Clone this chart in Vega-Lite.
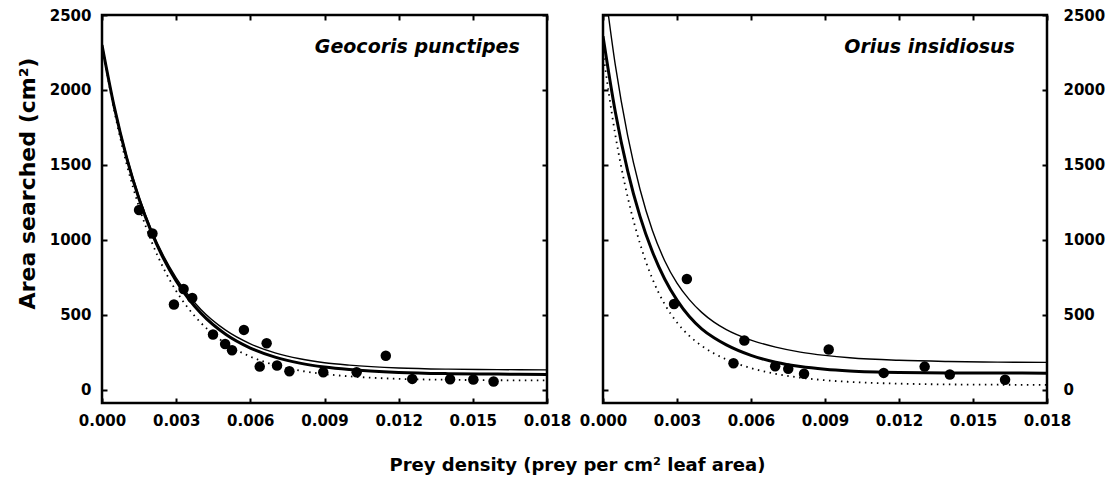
{
  "$schema": "https://vega.github.io/schema/vega-lite/v6.json",
  "background": "white",
  "padding": {"left": 15, "top": 6, "right": 2, "bottom": 5},
  "bounds": "flush",
  "spacing": 56,
  "config": {
    "view": {"stroke": "black", "strokeWidth": 2.5},
    "font": "DejaVu Sans",
    "axis": {
      "labelFont": "DejaVu Sans", "labelFontWeight": "bold", "labelFontSize": 15, "labelColor": "black",
      "titleFont": "DejaVu Sans", "titleFontWeight": "bold", "titleColor": "black",
      "domain": false, "grid": false, "tickColor": "black", "tickWidth": 2, "tickSize": -5,
      "labelFlush": false, "labelOverlap": false
    }
  },
  "title": {"text": "Prey density (prey per cm² leaf area)", "orient": "bottom", "anchor": "middle", "font": "DejaVu Sans", "fontSize": 18, "fontWeight": "bold", "color": "black", "offset": 28, "dx": 17},
  "datasets": {
    "gp_pts": [
      {"x": 0.0015, "y": 1198}, {"x": 0.00204, "y": 1042}, {"x": 0.00291, "y": 567}, {"x": 0.0033, "y": 671},
      {"x": 0.00365, "y": 611}, {"x": 0.00449, "y": 367}, {"x": 0.00498, "y": 304}, {"x": 0.00526, "y": 262},
      {"x": 0.00574, "y": 398}, {"x": 0.00638, "y": 153}, {"x": 0.00666, "y": 309}, {"x": 0.00708, "y": 160},
      {"x": 0.00758, "y": 122}, {"x": 0.00895, "y": 115}, {"x": 0.0103, "y": 115}, {"x": 0.01148, "y": 225},
      {"x": 0.01255, "y": 71}, {"x": 0.01408, "y": 69}, {"x": 0.01502, "y": 67}, {"x": 0.01584, "y": 53}
    ],
    "gp_thin": [
      {"x": 0, "y": 2300}, {"x": 0.0005, "y": 1889}, {"x": 0.001, "y": 1556}, {"x": 0.0015, "y": 1286}, {"x": 0.002, "y": 1067},
      {"x": 0.0025, "y": 889}, {"x": 0.003, "y": 746}, {"x": 0.0035, "y": 629}, {"x": 0.004, "y": 534}, {"x": 0.005, "y": 396},
      {"x": 0.006, "y": 305}, {"x": 0.007, "y": 245}, {"x": 0.008, "y": 205}, {"x": 0.009, "y": 179}, {"x": 0.01, "y": 163},
      {"x": 0.012, "y": 144}, {"x": 0.014, "y": 136}, {"x": 0.016, "y": 133}, {"x": 0.018, "y": 131}
    ],
    "gp_thick": [
      {"x": 0, "y": 2300}, {"x": 0.0005, "y": 1883}, {"x": 0.001, "y": 1545}, {"x": 0.0015, "y": 1272}, {"x": 0.002, "y": 1050},
      {"x": 0.0025, "y": 870}, {"x": 0.003, "y": 724}, {"x": 0.0035, "y": 606}, {"x": 0.004, "y": 510}, {"x": 0.005, "y": 369},
      {"x": 0.006, "y": 277}, {"x": 0.007, "y": 216}, {"x": 0.008, "y": 176}, {"x": 0.009, "y": 150}, {"x": 0.01, "y": 133},
      {"x": 0.012, "y": 114}, {"x": 0.014, "y": 106}, {"x": 0.016, "y": 103}, {"x": 0.018, "y": 101}
    ],
    "gp_dot": [
      {"x": 0, "y": 2300}, {"x": 0.0005, "y": 1858}, {"x": 0.001, "y": 1503}, {"x": 0.0015, "y": 1218}, {"x": 0.002, "y": 989},
      {"x": 0.0025, "y": 806}, {"x": 0.003, "y": 658}, {"x": 0.0035, "y": 540}, {"x": 0.004, "y": 445}, {"x": 0.005, "y": 308},
      {"x": 0.006, "y": 220}, {"x": 0.007, "y": 163}, {"x": 0.008, "y": 126}, {"x": 0.009, "y": 103}, {"x": 0.01, "y": 88},
      {"x": 0.012, "y": 71}, {"x": 0.014, "y": 65}, {"x": 0.016, "y": 62}, {"x": 0.018, "y": 61}
    ],
    "oi_pts": [
      {"x": 0.00288, "y": 571}, {"x": 0.0034, "y": 738}, {"x": 0.00529, "y": 175}, {"x": 0.00573, "y": 327},
      {"x": 0.00698, "y": 155}, {"x": 0.00751, "y": 138}, {"x": 0.00815, "y": 105}, {"x": 0.00915, "y": 267},
      {"x": 0.01138, "y": 111}, {"x": 0.01304, "y": 153}, {"x": 0.01406, "y": 100}, {"x": 0.0163, "y": 65}
    ],
    "oi_thin": [
      {"x": 0, "y": 2780}, {"x": 0.0005, "y": 2165}, {"x": 0.001, "y": 1695}, {"x": 0.0015, "y": 1337}, {"x": 0.002, "y": 1063},
      {"x": 0.0025, "y": 860}, {"x": 0.003, "y": 710}, {"x": 0.0035, "y": 600}, {"x": 0.004, "y": 515}, {"x": 0.0045, "y": 450},
      {"x": 0.005, "y": 400}, {"x": 0.006, "y": 330}, {"x": 0.007, "y": 283}, {"x": 0.008, "y": 250}, {"x": 0.009, "y": 228},
      {"x": 0.01, "y": 212}, {"x": 0.012, "y": 195}, {"x": 0.014, "y": 187}, {"x": 0.016, "y": 183}, {"x": 0.018, "y": 181}
    ],
    "oi_thick": [
      {"x": 0, "y": 2359}, {"x": 0.0005, "y": 1853}, {"x": 0.001, "y": 1460}, {"x": 0.0015, "y": 1156}, {"x": 0.002, "y": 921},
      {"x": 0.0025, "y": 738}, {"x": 0.003, "y": 597}, {"x": 0.0035, "y": 487}, {"x": 0.004, "y": 405}, {"x": 0.0045, "y": 345},
      {"x": 0.005, "y": 298}, {"x": 0.006, "y": 228}, {"x": 0.007, "y": 182}, {"x": 0.008, "y": 153}, {"x": 0.009, "y": 135},
      {"x": 0.01, "y": 124}, {"x": 0.012, "y": 114}, {"x": 0.014, "y": 111}, {"x": 0.016, "y": 110}, {"x": 0.018, "y": 109}
    ],
    "oi_dot": [
      {"x": 0, "y": 2250}, {"x": 0.0005, "y": 1699}, {"x": 0.001, "y": 1285}, {"x": 0.0015, "y": 974}, {"x": 0.002, "y": 740},
      {"x": 0.0025, "y": 570}, {"x": 0.003, "y": 447}, {"x": 0.0035, "y": 358}, {"x": 0.004, "y": 292}, {"x": 0.0045, "y": 241},
      {"x": 0.005, "y": 201}, {"x": 0.006, "y": 143}, {"x": 0.007, "y": 105}, {"x": 0.008, "y": 79}, {"x": 0.009, "y": 62},
      {"x": 0.01, "y": 51}, {"x": 0.012, "y": 39}, {"x": 0.014, "y": 34}, {"x": 0.016, "y": 32}, {"x": 0.018, "y": 31}
    ],
    "labels": [{"name": "x"}]
  },
  "hconcat": [
    {
      "width": 445, "height": 388,
      "layer": [
        {
          "data": {"name": "gp_thick"},
          "mark": {"type": "line", "interpolate": "monotone", "color": "black", "strokeWidth": 3, "clip": true},
          "encoding": {
            "x": {"field": "x", "type": "quantitative", "scale": {"domain": [0, 0.018], "nice": false, "zero": false},
                  "axis": {"orient": "bottom", "values": [0, 0.003, 0.006, 0.009, 0.012, 0.015, 0.018], "format": ".3f", "title": null, "labelPadding": 15}},
            "y": {"field": "y", "type": "quantitative", "scale": {"domain": [-90, 2500], "nice": false, "zero": false},
                  "axis": {"orient": "left", "values": [0, 500, 1000, 1500, 2000, 2500], "format": "d", "title": "Area searched (cm²)", "titleFontSize": 22, "titleY": 168, "labelPadding": 16, "titlePadding": 10}}
          }
        },
        {
          "data": {"name": "gp_thin"},
          "mark": {"type": "line", "interpolate": "monotone", "color": "black", "strokeWidth": 1.4, "clip": true},
          "encoding": {
            "x": {"field": "x", "type": "quantitative", "scale": {"domain": [0, 0.018], "nice": false, "zero": false}, "axis": null},
            "y": {"field": "y", "type": "quantitative", "scale": {"domain": [-90, 2500], "nice": false, "zero": false}, "axis": null}
          }
        },
        {
          "data": {"name": "gp_dot"},
          "mark": {"type": "line", "interpolate": "monotone", "color": "black", "strokeWidth": 1.8, "strokeDash": [1.5, 4.5], "clip": true},
          "encoding": {
            "x": {"field": "x", "type": "quantitative", "scale": {"domain": [0, 0.018], "nice": false, "zero": false}, "axis": null},
            "y": {"field": "y", "type": "quantitative", "scale": {"domain": [-90, 2500], "nice": false, "zero": false}, "axis": null}
          }
        },
        {
          "data": {"name": "gp_pts"},
          "mark": {"type": "circle", "color": "black", "opacity": 1, "size": 110},
          "encoding": {
            "x": {"field": "x", "type": "quantitative", "scale": {"domain": [0, 0.018], "nice": false, "zero": false},
                  "axis": {"orient": "top", "values": [0, 0.003, 0.006, 0.009, 0.012, 0.015, 0.018], "labels": false, "title": null}},
            "y": {"field": "y", "type": "quantitative", "scale": {"domain": [-90, 2500], "nice": false, "zero": false},
                  "axis": {"orient": "right", "values": [0, 500, 1000, 1500, 2000, 2500], "labels": false, "title": null}}
          }
        },
        {
          "data": {"name": "labels"},
          "mark": {"type": "text", "align": "right", "baseline": "middle", "font": "DejaVu Sans", "fontSize": 19, "fontWeight": "bold", "fontStyle": "italic", "color": "black"},
          "encoding": {
            "x": {"datum": 0.0169, "type": "quantitative", "scale": {"domain": [0, 0.018], "nice": false, "zero": false}, "axis": null},
            "y": {"datum": 2285, "type": "quantitative", "scale": {"domain": [-90, 2500], "nice": false, "zero": false}, "axis": null},
            "text": {"value": "Geocoris punctipes"}
          }
        }
      ],
      "resolve": {"axis": {"x": "independent", "y": "independent"}}
    },
    {
      "width": 444, "height": 388,
      "layer": [
        {
          "data": {"name": "oi_thick"},
          "mark": {"type": "line", "interpolate": "monotone", "color": "black", "strokeWidth": 3, "clip": true},
          "encoding": {
            "x": {"field": "x", "type": "quantitative", "scale": {"domain": [0, 0.018], "nice": false, "zero": false},
                  "axis": {"orient": "bottom", "values": [0, 0.003, 0.006, 0.009, 0.012, 0.015, 0.018], "format": ".3f", "title": null, "labelPadding": 15}},
            "y": {"field": "y", "type": "quantitative", "scale": {"domain": [-90, 2500], "nice": false, "zero": false},
                  "axis": {"orient": "right", "values": [0, 500, 1000, 1500, 2000, 2500], "format": "d", "title": null, "labelPadding": 21}}
          }
        },
        {
          "data": {"name": "oi_thin"},
          "mark": {"type": "line", "interpolate": "monotone", "color": "black", "strokeWidth": 1.4, "clip": true},
          "encoding": {
            "x": {"field": "x", "type": "quantitative", "scale": {"domain": [0, 0.018], "nice": false, "zero": false}, "axis": null},
            "y": {"field": "y", "type": "quantitative", "scale": {"domain": [-90, 2500], "nice": false, "zero": false}, "axis": null}
          }
        },
        {
          "data": {"name": "oi_dot"},
          "mark": {"type": "line", "interpolate": "monotone", "color": "black", "strokeWidth": 1.8, "strokeDash": [1.5, 4.5], "clip": true},
          "encoding": {
            "x": {"field": "x", "type": "quantitative", "scale": {"domain": [0, 0.018], "nice": false, "zero": false}, "axis": null},
            "y": {"field": "y", "type": "quantitative", "scale": {"domain": [-90, 2500], "nice": false, "zero": false}, "axis": null}
          }
        },
        {
          "data": {"name": "oi_pts"},
          "mark": {"type": "circle", "color": "black", "opacity": 1, "size": 110},
          "encoding": {
            "x": {"field": "x", "type": "quantitative", "scale": {"domain": [0, 0.018], "nice": false, "zero": false},
                  "axis": {"orient": "top", "values": [0, 0.003, 0.006, 0.009, 0.012, 0.015, 0.018], "labels": false, "title": null}},
            "y": {"field": "y", "type": "quantitative", "scale": {"domain": [-90, 2500], "nice": false, "zero": false},
                  "axis": {"orient": "left", "values": [0, 500, 1000, 1500, 2000, 2500], "labels": false, "title": null}}
          }
        },
        {
          "data": {"name": "labels"},
          "mark": {"type": "text", "align": "right", "baseline": "middle", "font": "DejaVu Sans", "fontSize": 19, "fontWeight": "bold", "fontStyle": "italic", "color": "black"},
          "encoding": {
            "x": {"datum": 0.0167, "type": "quantitative", "scale": {"domain": [0, 0.018], "nice": false, "zero": false}, "axis": null},
            "y": {"datum": 2285, "type": "quantitative", "scale": {"domain": [-90, 2500], "nice": false, "zero": false}, "axis": null},
            "text": {"value": "Orius insidiosus"}
          }
        }
      ],
      "resolve": {"axis": {"x": "independent", "y": "independent"}}
    }
  ]
}
